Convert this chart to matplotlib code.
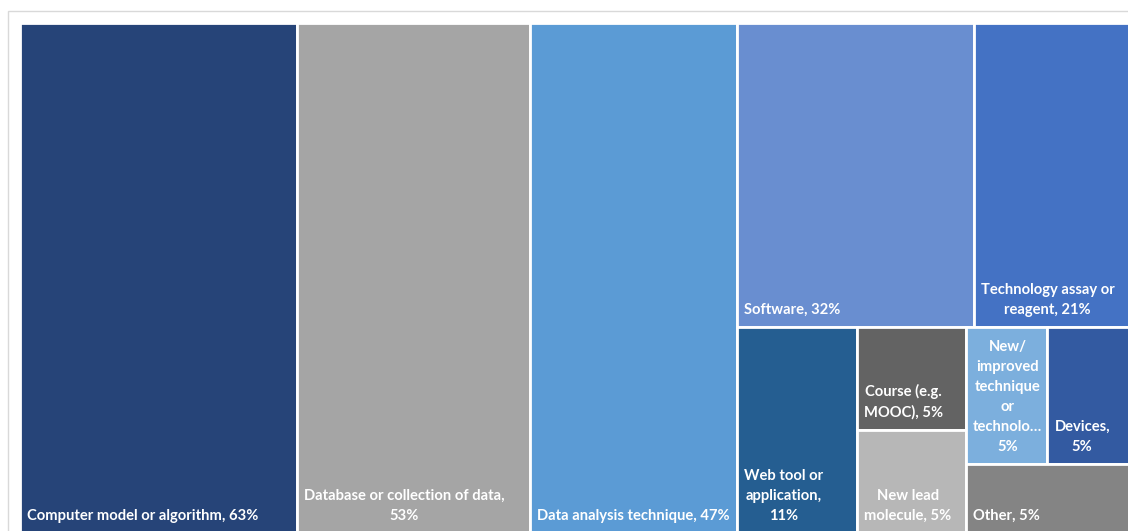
import matplotlib
matplotlib.use('Agg')
import matplotlib.pyplot as plt
from matplotlib.patches import Rectangle

# output categories, share of respondents (%)
values = [63, 53, 47, 32, 21, 11, 5, 5, 5, 5, 5]
labels = [
    "Computer model or algorithm, {}%",
    "Database or collection of data,\n{}%",
    "Data analysis technique, {}%",
    "Software, {}%",
    "Technology assay or\nreagent, {}%",
    "Web tool or\napplication,\n{}%",
    "Course (e.g.\nMOOC), {}%",
    "New lead\nmolecule, {}%",
    "New/\nimproved\ntechnique\nor\ntechnolo\u2026\n{}%",
    "Devices,\n{}%",
    "Other, {}%",
]
colors = ["#264478", "#A5A5A5", "#5B9BD5", "#698ED0", "#4472C4", "#255E91",
          "#636363", "#B7B7B7", "#7CAFDD", "#335AA1", "#848484"]

# width/height of the box the rows are chosen in
LAYOUT_ASPECT = 2.7

W_PX, H_PX = 1128, 531


def worst(row, length):
    s = sum(row)
    return max(length ** 2 * max(row) / s ** 2, s ** 2 / (length ** 2 * min(row)))


def squarify(vals, w, h):
    total = sum(vals)
    areas = [v * w * h / total for v in vals]
    x, y = 0.0, 0.0
    rects = []
    i = 0
    while i < len(areas):
        length = min(w, h)
        row = [areas[i]]
        j = i + 1
        while j < len(areas) and worst(row + [areas[j]], length) <= worst(row, length):
            row.append(areas[j])
            j += 1
        s = sum(row)
        if w >= h:
            # vertical strip on the left
            t = s / h
            yy = y
            for a in row:
                rects.append((x, yy, t, a / t))
                yy += a / t
            x += t
            w -= t
        else:
            # horizontal strip on top
            t = s / w
            xx = x
            for a in row:
                rects.append((xx, y, a / t, t))
                xx += a / t
            y += t
            h -= t
        i = j
    return rects


fig = plt.figure(figsize=(W_PX / 100, H_PX / 100), dpi=100)

# light chart-area frame
fig.add_artist(Rectangle((8 / W_PX, -0.1), 1.2, 1 - 11 / H_PX + 0.1,
                         transform=fig.transFigure, fill=False,
                         edgecolor="#D9D9D9", lw=1))

left, right, top, bottom = 20, 1129, 23, 533
ax = fig.add_axes([left / W_PX, 1 - bottom / H_PX,
                   (right - left) / W_PX, (bottom - top) / H_PX])
ax.set_xlim(0, LAYOUT_ASPECT)
ax.set_ylim(1, 0)
ax.axis("off")

rects = squarify(values, LAYOUT_ASPECT, 1.0)
for (x, y, w, h), v, lab, c in zip(rects, values, labels, colors):
    ax.add_patch(Rectangle((x, y), w, h, facecolor=c, edgecolor="white", lw=2))
    ax.annotate(lab.format(v), xy=(x, y + h), xytext=(7, 10),
                textcoords="offset pixels", ha="left", va="bottom",
                multialignment="center", color="white", fontsize=10.6,
                fontweight="bold", family=["Lato", "DejaVu Sans"],
                linespacing=1.55)

fig.savefig("out.png", dpi=100)
